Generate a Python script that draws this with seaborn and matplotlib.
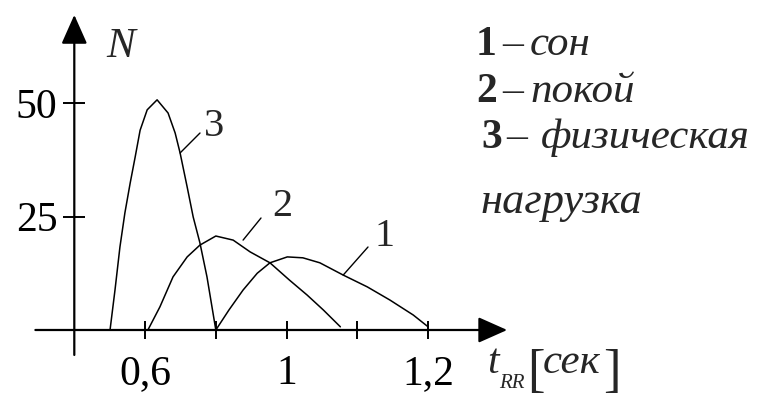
import numpy as np
import matplotlib
matplotlib.use("Agg")
import matplotlib.pyplot as plt
import seaborn as sns

# ---- data ----
t_sleep = [0.800, 0.837, 0.877, 0.917, 0.953, 1.001, 1.023, 1.047, 1.080, 1.114, 1.146, 1.179, 1.200]
n_sleep = [0.0, 4.4, 8.8, 12.5, 14.8, 16.1, 15.9, 14.8, 12.1, 9.5, 6.6, 3.3, 0.7]

t_rest = [0.608, 0.642, 0.679, 0.719, 0.755, 0.800, 0.849, 0.897, 0.953, 1.004, 1.029, 1.052, 1.076]
n_rest = [0.0, 5.1, 11.7, 16.1, 18.7, 20.7, 19.8, 17.2, 14.8, 11.0, 7.7, 4.4, 0.7]

t_load = [0.501, 0.515, 0.529, 0.543, 0.558, 0.572, 0.586, 0.606, 0.634, 0.665,
          0.685, 0.699, 0.719, 0.736, 0.755, 0.775, 0.800]
n_load = [0.0, 8.8, 18.3, 25.8, 32.4, 38.1, 44.0, 48.5, 50.7, 47.8,
          43.4, 39.0, 31.5, 24.9, 19.2, 11.7, 0.0]

x_ticks = [0.6, 0.8, 1.0, 1.1, 1.2]
x_tick_labels = ["0,6", "", "1", "", "1,2"]
y_ticks = [25, 50]
y_tick_labels = ["25", "50"]

curve_names = ["1", "2", "3"]
legend_numbers = ["1", "2", "3"]
legend_words = ["сон", "покой", "физическая"]
legend_extra = "нагрузка"

# ---- figure ----
sns.set_style("white")
plt.rcParams["font.family"] = ["Liberation Serif", "DejaVu Serif"]

fig = plt.figure(figsize=(7.6, 3.99), dpi=100)
ax = fig.add_axes([0, 0, 1, 1])
ax.set_facecolor("none")


# schematic axis: 0.6..1.0 step 0.2 per division, 1.0..1.2 step 0.1 per division
def fwd(x):
    x = np.asarray(x, dtype=float)
    return np.where(x <= 1.0, (x - 0.6) / 0.2, 2.0 + (x - 1.0) / 0.1)


def inv(u):
    u = np.asarray(u, dtype=float)
    return np.where(u <= 2.0, 0.6 + 0.2 * u, 1.0 + 0.1 * (u - 2.0))


ax.set_xscale("function", functions=(fwd, inv))

for xs, ys in [(t_sleep, n_sleep), (t_rest, n_rest), (t_load, n_load)]:
    sns.lineplot(x=xs, y=ys, ax=ax, color="black", lw=1.1, sort=False,
                 estimator=None, legend=False)

ax.set_xlim(0.190, 1.669)
ax.set_ylim(-15.2, 72.69)

# axes with arrows
for s in ax.spines.values():
    s.set_color("none")
ax.spines["left"].set_position(("data", 0.4))
ax.spines["bottom"].set_position(("data", 0))

arrow = dict(arrowstyle="-|>,head_length=0.9,head_width=0.4", mutation_scale=20,
             lw=1.6, color="black", shrinkA=0, shrinkB=0)
ax.annotate("", xy=(1.3117, 0), xytext=(0.29, 0), arrowprops=arrow)
ax.annotate("", xy=(0.4, 69.4), xytext=(0.4, -5.5), arrowprops=arrow)

ax.set_xticks(x_ticks, labels=x_tick_labels)
ax.set_yticks(y_ticks, labels=y_tick_labels)
ax.xaxis.set_ticks_position("bottom")
ax.yaxis.set_ticks_position("left")
ax.tick_params(axis="x", direction="inout", length=13, width=1.4, pad=11,
               labelsize=30, colors="black")
ax.tick_params(axis="y", direction="inout", length=16, width=1.4, pad=4,
               labelsize=30, colors="black")
ax.xaxis.set_minor_locator(matplotlib.ticker.NullLocator())
ax.yaxis.set_minor_locator(matplotlib.ticker.NullLocator())
ax.grid(False)


def P(px, py):
    return px / 760.0, 1 - py / 399.0


T = ax.transAxes
# N label
ax.text(*P(121, 47), "N", transform=T, fontsize=31, style="italic",
        ha="center", va="center")

# curve labels
ax.text(*P(214, 126), curve_names[2], transform=T, fontsize=29, ha="center", va="center")
ax.text(*P(282, 206), curve_names[1], transform=T, fontsize=29, ha="center", va="center")
ax.text(*P(384, 237), curve_names[0], transform=T, fontsize=29, ha="center", va="center")

# leader lines (from a point on each curve to its label)
lead = dict(arrowstyle="-", lw=1.0, color="black", shrinkA=0, shrinkB=0)
ax.annotate("", xy=P(200, 133), xycoords=T, xytext=(0.699, 39.0), textcoords="data",
            arrowprops=lead)
ax.annotate("", xy=P(261, 218), xycoords=T, xytext=(0.877, 19.8), textcoords="data",
            arrowprops=lead)
ax.annotate("", xy=P(368, 247), xycoords=T, xytext=(1.080, 12.1), textcoords="data",
            arrowprops=lead)

# legend block
rows = [(476, 502, 530, 55), (476, 502, 530, 102), (481, 506, 541, 148)]
for (xn, xd, xw, yb), num, word in zip(rows, legend_numbers, legend_words):
    ax.text(*P(xn, yb), num, transform=T, fontsize=30, fontweight="bold",
            ha="left", va="baseline")
    ax.text(*P(xd, yb), "–", transform=T, fontsize=30, ha="left", va="baseline")
    ax.text(*P(xw, yb), word, transform=T, fontsize=31, style="italic",
            ha="left", va="baseline")
ax.text(*P(481, 213), legend_extra, transform=T, fontsize=32, style="italic",
        ha="left", va="baseline")

# x-axis label t_RR[сек]
ax.text(*P(487, 373), "t", transform=T, fontsize=30, style="italic", ha="left", va="baseline")
ax.text(*P(499, 388), "RR", transform=T, fontsize=15, style="italic", ha="left", va="baseline")
ax.text(*P(527, 386), "[", transform=T, fontsize=38, ha="left", va="baseline")
ax.text(*P(543, 373), "сек", transform=T, fontsize=31, style="italic", ha="left", va="baseline")
ax.text(*P(603, 386), "]", transform=T, fontsize=38, ha="left", va="baseline")

fig.savefig("out.png", dpi=100)
